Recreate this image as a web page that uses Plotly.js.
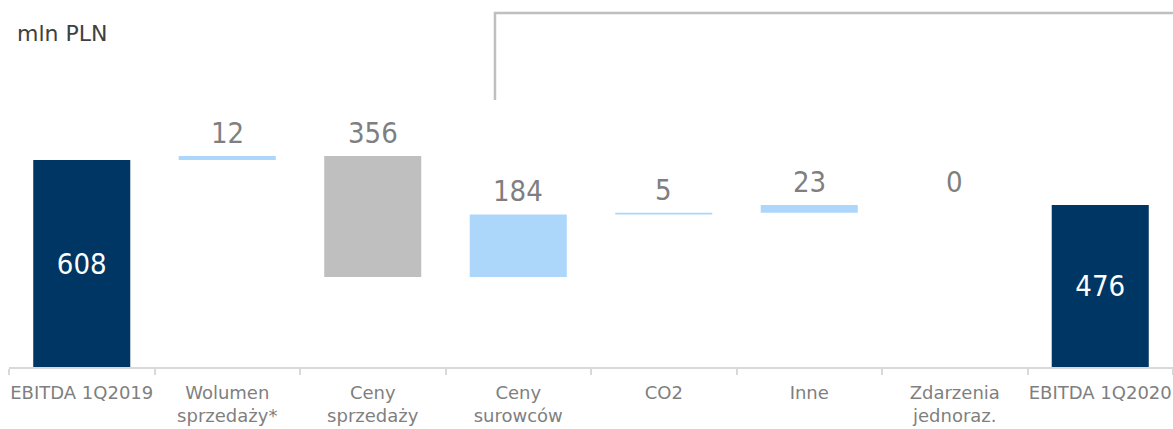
<!DOCTYPE html>
<html>
<head>
<meta charset="utf-8">
<script src="https://cdn.plot.ly/plotly-3.0.1.min.js"></script>
<style>html,body{margin:0;padding:0;background:#fff;}#chart{width:1173px;height:429px;}</style>
</head>
<body>
<div id="chart"></div>
<script>
var categories = ["EBITDA 1Q2019", "Wolumen<br>sprzedaży*", "Ceny<br>sprzedaży", "Ceny<br>surowców", "CO2", "Inne", "Zdarzenia<br>jednoraz.", "EBITDA 1Q2020"];
var measures = ["absolute", "relative", "relative", "relative", "relative", "relative", "relative", "total"];
var values = [608, 12, -356, 184, 5, 23, 0, 476];
var unitLabel = "mln PLN";

var FONT_C = "DejaVu Sans Condensed, DejaVu Sans, sans-serif";
var FONT = "DejaVu Sans, sans-serif";

// running totals for label placement
var running = 0;
var annotations = [];
var insideText = [];
var textPos = [];
for (var i = 0; i < values.length; i++) {
  if (measures[i] === "absolute" || measures[i] === "total") {
    running = measures[i] === "absolute" ? values[i] : running;
    insideText.push(String(running));
    textPos.push("inside");
  } else {
    var start = running;
    running += values[i];
    insideText.push("");
    textPos.push("none");
    annotations.push({
      x: categories[i], y: Math.max(start, running), xref: "x", yref: "y",
      text: String(Math.abs(values[i])), showarrow: false,
      yanchor: "bottom", yshift: 4,
      font: {family: FONT_C, size: 29, color: "#7f7f7f"}
    });
  }
}
annotations.push({
  xref: "paper", yref: "paper", x: 0.005, y: 0.91, xanchor: "left", yanchor: "middle",
  text: unitLabel, showarrow: false, font: {family: FONT, size: 22, color: "#404040"}
});

var trace = {
  type: "waterfall",
  x: categories,
  y: values,
  measure: measures,
  text: insideText,
  textposition: textPos,
  insidetextanchor: "middle",
  textfont: {family: FONT_C, size: 29, color: "#ffffff"},
  constraintext: "none",
  increasing: {marker: {color: "#acd7fb"}},
  decreasing: {marker: {color: "#bfbfbf"}},
  totals: {marker: {color: "#003663"}},
  connector: {visible: false},
  hoverinfo: "none"
};

var layout = {
  width: 1173, height: 429,
  margin: {l: 9, r: 0, t: 0, b: 62},
  paper_bgcolor: "#ffffff", plot_bgcolor: "#ffffff",
  showlegend: false,
  waterfallgap: 0.333,
  font: {family: FONT},
  xaxis: {
    type: "category",
    showline: true, linecolor: "#d9d9d9", linewidth: 2,
    ticks: "outside", tickson: "boundaries", ticklen: 6, tickcolor: "#d9d9d9", tickwidth: 2,
    ticklabelstandoff: 8, tickangle: 0,
    tickfont: {family: FONT, size: 18, color: "#7f7f7f"},
    showgrid: false, zeroline: false, fixedrange: true
  },
  yaxis: {
    range: [0, 1078], visible: false, showgrid: false, zeroline: false, fixedrange: true
  },
  shapes: [{
    type: "path", xref: "paper", yref: "paper",
    path: "M 0.4175 0.7275 L 0.4175 0.9646 L 1.0 0.9646",
    line: {color: "#bfbfbf", width: 2.5}
  }],
  annotations: annotations
};

Plotly.newPlot("chart", [trace], layout, {displayModeBar: false, staticPlot: true});
</script>
</body>
</html>
